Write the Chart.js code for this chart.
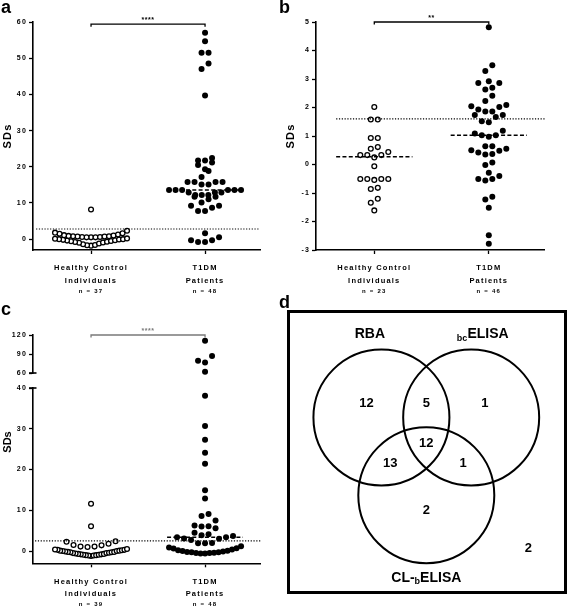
<!DOCTYPE html>
<html><head><meta charset="utf-8">
<script src="https://cdn.jsdelivr.net/npm/chart.js@4.4.0/dist/chart.umd.min.js"></script>
<style>
html,body{margin:0;padding:0;background:#fff;}
body{width:567px;height:607px;position:relative;overflow:hidden;font-family:"Liberation Sans",Arial,sans-serif;}
canvas{position:absolute;}
.lbl{position:absolute;font-weight:bold;font-size:18px;line-height:18px;color:#000;}
#vennBox{position:absolute;left:287px;top:310px;width:280px;height:284px;box-sizing:border-box;border:3px solid #000;}
</style></head><body>
<canvas id="ca" width="283" height="300" style="left:0;top:0"></canvas>
<canvas id="cb" width="284" height="300" style="left:283px;top:0"></canvas>
<canvas id="cc" width="283" height="307" style="left:0;top:300px"></canvas>
<div id="vennBox"><canvas id="cd" width="274" height="278" style="left:0;top:0"></canvas></div>
<div class="lbl" style="left:1px;top:-2px">a</div>
<div class="lbl" style="left:279px;top:-2px">b</div>
<div class="lbl" style="left:1px;top:300px">c</div>
<div class="lbl" style="left:279px;top:293px">d</div>
<script>
// ================= DATA =================
const groupNames = [['Healthy Control', 'Individuals'], ['T1DM', 'Patients']];
const nLabelsA = ['n = 37', 'n = 48'];
const nLabelsB = ['n = 23', 'n = 46'];
const nLabelsC = ['n = 39', 'n = 48'];

// panel a
const healthyA = [8.2, 2.3, 1.8, 1.6, 1.5, 1.3, 1.1, 1.0, 0.9, 0.8, 0.8, 0.7, 0.7, 0.6, 0.6, 0.5, 0.5, 0.5,
  0.2, 0.1, 0.0, 0.0, -0.1, -0.2, -0.3, -0.4, -0.5, -0.6, -0.7, -0.8, -0.9, -1.0, -1.2, -1.4, -1.6, -1.8, -1.7];
const t1dmA = [57.0, 54.7, 51.5, 51.5, 48.5, 47.0, 39.7,
  22.4, 21.7, 21.7, 21.2, 20.5, 19.3, 18.8, 17.2, 15.8, 15.8, 15.8, 15.8, 15.1, 15.1,
  13.6, 13.6, 13.6, 13.6, 13.6, 13.6, 12.9, 12.9, 12.9, 12.2, 12.2, 12.2, 11.7, 11.7,
  11.0, 10.1, 9.2, 9.2, 8.7, 7.8, 7.8,
  1.6, 0.5, -0.3, -0.3, -0.8, -0.8];
const cutoffA = 2.8;
const medianT1dmA = 13.6;
const sigA = '****';
const yTicksA = [0, 10, 20, 30, 40, 50, 60];

// panel b
const healthyB = [2.02, 1.58, 1.58, 0.93, 0.93, 0.61, 0.55, 0.44, 0.33, 0.33, 0.33, 0.25, -0.06,
  -0.51, -0.51, -0.54, -0.51, -0.51, -0.82, -0.86, -1.2, -1.34, -1.61];
const t1dmB = [4.82, 3.48, 3.28, 2.92, 2.86, 2.86, 2.69, 2.63, 2.41, 2.23, 2.09, 2.04, 2.02, 1.93,
  1.86, 1.86, 1.74, 1.74, 1.67, 1.52, 1.48, 1.18, 1.09, 1.03, 1.03, 0.97, 0.64, 0.64,
  0.55, 0.5, 0.48, 0.42, 0.37, 0.35, 0.07, -0.02, -0.29, -0.4, -0.51, -0.51, -0.56,
  -1.13, -1.23, -1.52, -2.48, -2.78];
const cutoffB = 1.6;
const medianHealthyB = 0.27;
const medianT1dmB = 1.03;
const sigB = '**';
const yTicksB = [-3, -2, -1, 0, 1, 2, 3, 4, 5];

// panel c (broken axis: values above the break go on the upper segment)
const healthyC = [11.6, 6.1, 2.4, 2.3, 1.8, 1.5, 1.4, 1.1, 1.1, 1.0,
  0.5, 0.4, 0.3, 0.3, 0.2, 0.1, 0.1, 0.0, 0.0, -0.1, -0.2, -0.2, -0.3, -0.3, -0.4,
  -0.5, -0.5, -0.6, -0.7, -0.7, -0.8, -0.8, -0.9, -0.9, -1.0, -1.0, -1.1, -1.1, -1.2];
const t1dmC = [111, 87, 79.3, 76.7, 62,
  38.1, 30.7, 27.3, 24.1, 21.4, 14.9, 12.9, 9.1, 8.6, 7.5, 6.3, 6.1, 6.0, 5.6,
  4.5, 4.1, 3.9, 3.7, 3.4, 3.4, 3.1, 3.0, 2.7, 2.0, 1.9, 1.9, 1.2,
  0.9, 0.7, 0.6, 0.4, 0.2, 0.1, 0.0, -0.1, -0.2, -0.3, -0.4, -0.5, -0.5, -0.6, -0.6, -0.3];
const cutoffC = 2.5;
const medianT1dmC = 3.4;
const sigC = '****';
const yTicksCLow = [0, 10, 20, 30, 40];
const yTicksCHigh = [60, 90, 120];
const breakLow = 40, breakHigh = 60;

// panel d (Venn)
const vennSets = ['RBA', 'bcELISA', 'CL-bELISA'];
const vennRegions = ['A', 'AB', 'B', 'ABC', 'AC', 'BC', 'C', 'none'];
const vennCounts = [12, 5, 1, 12, 13, 1, 2, 2];

// ================= STYLE / LAYOUT =================
const FONT = '"Liberation Sans", Arial, Helvetica, sans-serif';
const AXIS_W = 33;
const X_MIN = 0.491, X_MAX = 2.482;
const DOT_GAP = 7, ROW_PX = 7.5, HALF_W = 36;

function swarm(chart, values, cat, yId) {
  const ys = chart.scales[yId], xs = chart.scales.x;
  const unit = xs.getPixelForValue(2) - xs.getPixelForValue(1);
  const items = values.map(v => ({v, p: ys.getPixelForValue(v)})).sort((a, b) => a.v - b.v);
  const rows = [];
  let cur = null;
  items.forEach(it => {
    if (!cur || cur.p0 - it.p >= ROW_PX) { cur = {p0: it.p, items: []}; rows.push(cur); }
    cur.items.push(it);
  });
  const out = [];
  rows.forEach(r => {
    const n = r.items.length;
    let d = DOT_GAP;
    if (n > 1 && (n - 1) * d > 2 * HALF_W) d = 2 * HALF_W / (n - 1);
    const slots = [];
    for (let i = 0; i < n; i++) slots.push((i - (n - 1) / 2) * d);
    slots.sort((a, b) => Math.abs(a) - Math.abs(b) || a - b);
    r.items.forEach((it, i) => out.push({x: cat + slots[i] / unit, y: it.v}));
  });
  return out;
}

function yAxis(min, max, ticks, extra) {
  return Object.assign({
    type: 'linear', position: 'left', min, max,
    afterBuildTicks: s => { s.ticks = ticks.map(v => ({value: v})); },
    afterFit: s => { s.width = AXIS_W; },
    ticks: {color: '#000', font: {family: FONT, size: 7, weight: 'bold'}, padding: 2, autoSkip: false, callback: v => String(v)},
    grid: {display: true, drawOnChartArea: false, drawTicks: true, tickLength: 4, tickColor: '#000', tickWidth: 1.3},
    border: {display: true, color: '#000', width: 1.6},
    title: {display: false}
  }, extra || {});
}
const yTitle = {display: true, text: 'SDs', color: '#000', font: {family: FONT, size: 11, weight: 'bold'}, padding: {top: 1, bottom: 0}};

function xAxes(nLabels, h1, h2, nPad) {
  return {
    x: {
      type: 'linear', position: 'bottom', min: X_MIN, max: X_MAX,
      afterBuildTicks: s => { s.ticks = [{value: 1}, {value: 2}]; },
      afterFit: s => { s.height = h1; },
      ticks: {callback: v => groupNames[Math.round(v) - 1], color: '#000', autoSkip: false, maxRotation: 0,
        font: {family: FONT, size: 7.5, weight: 'bold', lineHeight: 1.7}, padding: 8},
      grid: {display: true, drawOnChartArea: false, drawTicks: true, tickLength: 4, tickColor: '#000', tickWidth: 1.3},
      border: {display: true, color: '#000', width: 1.6}
    },
    x2: {
      type: 'linear', position: 'bottom', min: X_MIN, max: X_MAX,
      afterBuildTicks: s => { s.ticks = [{value: 1}, {value: 2}]; },
      afterFit: s => { s.height = h2; },
      ticks: {callback: v => nLabels[Math.round(v) - 1], color: '#000', autoSkip: false, maxRotation: 0,
        font: {family: FONT, size: 6, weight: 'bold', lineHeight: 1.2}, padding: nPad},
      grid: {display: false, drawTicks: false},
      border: {display: false}
    }
  };
}

const overlay = {
  id: 'overlay',
  beforeUpdate(chart) { chart.ctx.letterSpacing = '1.2px'; },
  beforeDraw(chart) { chart.ctx.letterSpacing = '1.2px'; },
  afterDatasetsDraw(chart, args, o) {
    const ctx = chart.ctx, xs = chart.scales.x, ys = chart.scales[o.sigAxis];
    const x1 = xs.getPixelForValue(1), x2 = xs.getPixelForValue(2), y = ys.getPixelForValue(o.sigY);
    ctx.save();
    ctx.strokeStyle = o.sigColor; ctx.lineWidth = 1.3;
    ctx.beginPath(); ctx.moveTo(x1, y + 2.5); ctx.lineTo(x1, y); ctx.lineTo(x2, y); ctx.lineTo(x2, y + 2.5); ctx.stroke();
    ctx.letterSpacing = '0.6px';
    ctx.fillStyle = o.sigColor; ctx.font = 'bold 7px ' + FONT; ctx.textAlign = 'center'; ctx.textBaseline = 'middle';
    ctx.fillText(o.sigText, (x1 + x2) / 2, y - 4);
    if (o.breaks) {
      ctx.strokeStyle = '#000'; ctx.lineWidth = 1.6;
      const ax = chart.scales.y.right;
      o.breaks.forEach(b => {
        const py = chart.scales[b.axis].getPixelForValue(b.v);
        ctx.beginPath(); ctx.moveTo(ax - 4, py); ctx.lineTo(ax + 3.5, py); ctx.stroke();
      });
    }
    if (o.title) {
      ctx.letterSpacing = '0px';
      ctx.font = 'bold 11px ' + FONT; ctx.fillStyle = '#000';
      ctx.translate(o.title.x, o.title.y); ctx.rotate(-Math.PI / 2);
      ctx.fillText(o.title.text, 0, 0);
    }
    ctx.restore();
  }
};

function refLine(x0, x1, y, kind, axis) {
  return {type: 'line', data: [{x: x0, y}, {x: x1, y}], yAxisID: axis || 'y', borderColor: '#000',
    borderWidth: kind === 'dot' ? 1.2 : 1.5, borderDash: kind === 'dot' ? [1.2, 1.6] : [4, 2.3],
    pointRadius: 0, fill: false, order: 0, clip: false};
}

function dotChart(id, p) {
  const datasets = p.lines.slice();
  p.groups.forEach(g => datasets.push({
    type: 'scatter', data: g.vals.map(v => ({x: g.cat, y: v})), yAxisID: g.axis || 'y',
    pointRadius: g.filled ? 3 : 2.4, pointBorderWidth: g.filled ? 0 : 1.3,
    pointBackgroundColor: g.filled ? '#000' : '#fff', pointBorderColor: '#000', order: 1, clip: false
  }));
  const chart = new Chart(document.getElementById(id), {
    type: 'scatter',
    data: {datasets},
    options: {
      responsive: false, animation: false, devicePixelRatio: 1, events: [],
      layout: {padding: {left: 0, right: 23, top: p.padTop, bottom: 0}},
      scales: Object.assign(xAxes(p.nLabels, p.h1, p.h2, p.nPad), p.yScales),
      plugins: {legend: {display: false}, tooltip: {enabled: false}, overlay: p.overlay}
    },
    plugins: [overlay]
  });
  p.groups.forEach((g, i) => {
    chart.data.datasets[p.lines.length + i].data = swarm(chart, g.vals, g.cat, g.axis || 'y');
  });
  chart.update('none');
  return chart;
}

// ---- panel a
dotChart('ca', {
  padTop: 22, h1: 36, h2: 14, nPad: 2, nLabels: nLabelsA,
  yScales: {y: yAxis(-3, 60, yTicksA, {title: yTitle})},
  lines: [refLine(0.518, X_MAX, cutoffA, 'dot'), refLine(2 - 0.333, 2 + 0.333, medianT1dmA, 'dash')],
  groups: [{vals: healthyA, cat: 1, filled: false}, {vals: t1dmA, cat: 2, filled: true}],
  overlay: {sigAxis: 'y', sigY: 59.4, sigText: sigA, sigColor: '#000'}
});

// ---- panel b
dotChart('cb', {
  padTop: 22, h1: 36, h2: 14, nPad: 2, nLabels: nLabelsB,
  yScales: {y: yAxis(-3, 5, yTicksB, {title: yTitle})},
  lines: [refLine(0.667, X_MAX + 0.015, cutoffB, 'dot'),
          refLine(1 - 0.333, 1 + 0.333, medianHealthyB, 'dash'),
          refLine(2 - 0.333, 2 + 0.333, medianT1dmB, 'dash')],
  groups: [{vals: healthyB, cat: 1, filled: false}, {vals: t1dmB, cat: 2, filled: true}],
  overlay: {sigAxis: 'y', sigY: 5, sigText: sigB, sigColor: '#000'}
});

// ---- panel c
const stackGap = {type: 'linear', position: 'left', stack: 'v', stackWeight: 15, min: 0, max: 1,
  afterFit: s => { s.width = AXIS_W; }, ticks: {display: false},
  grid: {display: false, drawTicks: false}, border: {display: false}};
dotChart('cc', {
  padTop: 35, h1: 34, h2: 9.7, nPad: 3, nLabels: nLabelsC,
  yScales: {
    y: yAxis(-3, breakLow, yTicksCLow, {stack: 'v', stackWeight: 175.3}),
    yGap: stackGap,
    yTop: yAxis(breakHigh, 120, yTicksCHigh, {stack: 'v', stackWeight: 38})
  },
  lines: [refLine(0.509, X_MAX + 0.015, cutoffC, 'dot'), refLine(2 - 0.333, 2 + 0.333, medianT1dmC, 'dash')],
  groups: [
    {vals: healthyC, cat: 1, filled: false},
    {vals: t1dmC.filter(v => v <= breakLow), cat: 2, filled: true},
    {vals: t1dmC.filter(v => v >= breakHigh), cat: 2, filled: true, axis: 'yTop'}
  ],
  overlay: {sigAxis: 'yTop', sigY: 120, sigText: sigC, sigColor: '#7a7a7a',
    breaks: [{axis: 'yTop', v: breakHigh}, {axis: 'y', v: breakLow}],
    title: {text: 'SDs', x: 7.5, y: 142}}
});

// ---- panel d : Venn
const VENN_UNIT_PX = 68;          // one circle radius in pixels
const VENN_SPREAD = 0.762;        // centre distance from the middle, in radii
const vennAngles = [150, 30, 270];
const vennCenters = vennAngles.map(a => ({x: VENN_SPREAD * Math.cos(a * Math.PI / 180), y: VENN_SPREAD * Math.sin(a * Math.PI / 180)}));
const regionAnchors = {A: [-0.88, 0.59], AB: [0, 0.59], B: [0.86, 0.59], ABC: [0, 0], AC: [-0.53, -0.29], BC: [0.54, -0.29], C: [0, -0.99], none: [1.5, -1.54]};
const setLabelAnchors = [[-0.83, 1.6], [0.83, 1.6], [0, -1.98]];
const setLabelParts = {
  'RBA': [{t: 'RBA'}],
  'bcELISA': [{t: 'bc', sub: true}, {t: 'ELISA'}],
  'CL-bELISA': [{t: 'CL-'}, {t: 'b', sub: true}, {t: 'ELISA'}]
};
const vw = 274, vh = 278, vcx = 136.3, vcy = 130.4;

const vennText = {
  id: 'vennText',
  afterDatasetsDraw(chart) {
    const ctx = chart.ctx, xs = chart.scales.x, ys = chart.scales.y;
    ctx.save();
    ctx.fillStyle = '#000'; ctx.textBaseline = 'middle'; ctx.textAlign = 'center';
    ctx.font = 'bold 13px ' + FONT;
    vennRegions.forEach((r, i) => {
      const a = regionAnchors[r];
      ctx.fillText(String(vennCounts[i]), xs.getPixelForValue(a[0]), ys.getPixelForValue(a[1]));
    });
    ctx.textAlign = 'left';
    vennSets.forEach((name, i) => {
      const parts = setLabelParts[name];
      const fonts = parts.map(p => 'bold ' + (p.sub ? 9 : 14) + 'px ' + FONT);
      let w = 0;
      parts.forEach((p, k) => { ctx.font = fonts[k]; w += ctx.measureText(p.t).width; });
      let x = xs.getPixelForValue(setLabelAnchors[i][0]) - w / 2;
      const y = ys.getPixelForValue(setLabelAnchors[i][1]);
      parts.forEach((p, k) => {
        ctx.font = fonts[k];
        ctx.fillText(p.t, x, y + (p.sub ? 3.5 : 0));
        x += ctx.measureText(p.t).width;
      });
    });
    ctx.restore();
  }
};

new Chart(document.getElementById('cd'), {
  type: 'scatter',
  data: {datasets: [{
    data: vennCenters,
    pointRadius: c => c.chart.scales.x.getPixelForValue(1) - c.chart.scales.x.getPixelForValue(0),
    pointBackgroundColor: 'rgba(0,0,0,0)', pointBorderColor: '#000', pointBorderWidth: 2, clip: false
  }]},
  options: {
    responsive: false, animation: false, devicePixelRatio: 1, events: [],
    layout: {padding: 0},
    scales: {
      x: {type: 'linear', display: false, min: -vcx / VENN_UNIT_PX, max: (vw - vcx) / VENN_UNIT_PX},
      y: {type: 'linear', display: false, min: -(vh - vcy) / VENN_UNIT_PX, max: vcy / VENN_UNIT_PX}
    },
    plugins: {legend: {display: false}, tooltip: {enabled: false}}
  },
  plugins: [vennText]
});
</script>
</body></html>
